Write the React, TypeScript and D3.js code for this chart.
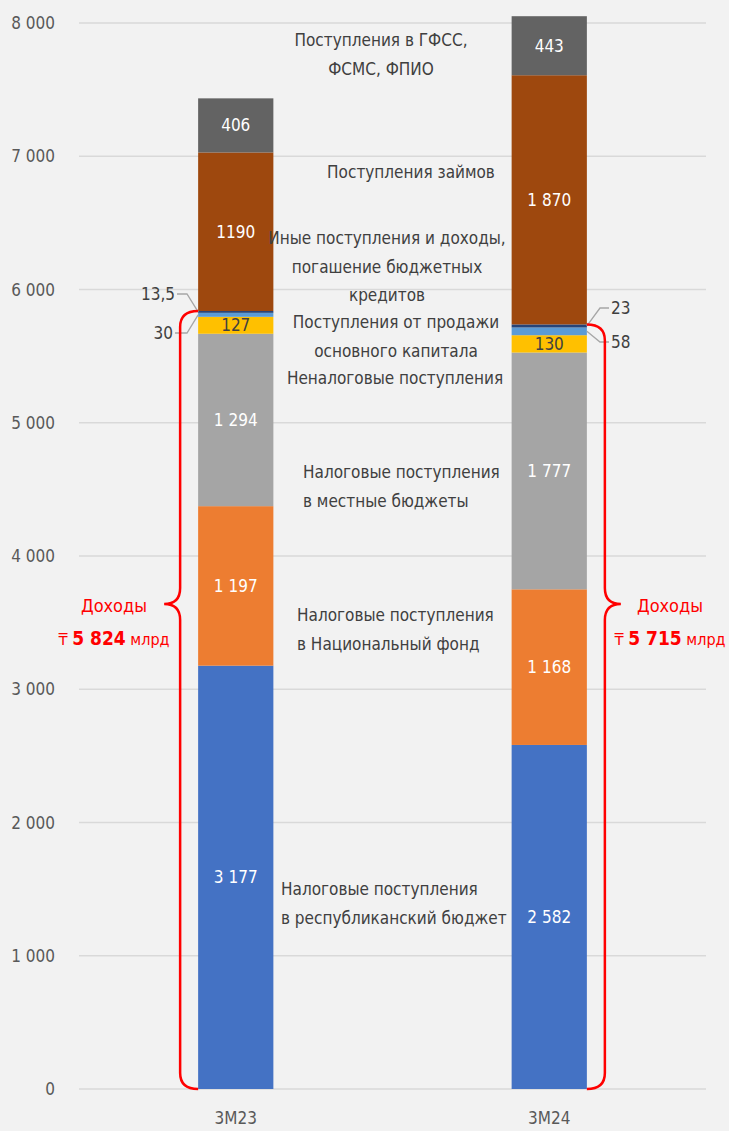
import React, { useEffect, useRef } from "react";
import * as d3 from "d3";

// data
const periods = ["3M23", "3M24"];
const seriesNames = [
  "Налоговые поступления в республиканский бюджет",
  "Налоговые поступления в Национальный фонд",
  "Налоговые поступления в местные бюджеты",
  "Неналоговые поступления",
  "Поступления от продажи основного капитала",
  "Иные поступления и доходы, погашение бюджетных кредитов",
  "Поступления займов",
  "Поступления в ГФСС, ФСМС, ФПИО",
];
const values3M23 = [3177, 1197, 1294, 127, 30, 13.5, 1190, 406];
const values3M24 = [2582, 1168, 1777, 130, 58, 23, 1870, 443];
const labels3M23 = ["3 177", "1 197", "1 294", "127", "30", "13,5", "1190", "406"];
const labels3M24 = ["2 582", "1 168", "1 777", "130", "58", "23", "1 870", "443"];
const incomeTotals = ["5 824", "5 715"];
const yTicks = [0, 1000, 2000, 3000, 4000, 5000, 6000, 7000, 8000];
const colors = ["#4472c4", "#ed7d31", "#a5a5a5", "#ffc000", "#5b9bd5", "#264478", "#9e480e", "#636363"];

// text blocks in the middle of the chart (lines, x, y of first line, anchor)
const legendBlocks = [
  { lines: ["Налоговые поступления", "в республиканский бюджет"], x: 281, y: 889, anchor: "start" },
  { lines: ["Налоговые поступления", "в Национальный фонд"], x: 297, y: 615, anchor: "start" },
  { lines: ["Налоговые поступления", "в местные бюджеты"], x: 303, y: 472, anchor: "start" },
  { lines: ["Неналоговые поступления"], x: 395, y: 378, anchor: "middle" },
  { lines: ["Поступления от продажи", "основного капитала"], x: 396, y: 322, anchor: "middle" },
  { lines: ["Иные поступления и доходы,", "погашение бюджетных", "кредитов"], x: 387, y: 238, anchor: "middle" },
  { lines: ["Поступления займов"], x: 411, y: 172, anchor: "middle" },
  { lines: ["Поступления в ГФСС,", "ФСМС, ФПИО"], x: 381, y: 40, anchor: "middle" },
];

const W = 729;
const H = 1131;
const FONT = "'Liberation Sans Narrow', 'DejaVu Sans Condensed', 'Roboto', sans-serif";

const App = () => {
  const svgRef = useRef<SVGSVGElement>(null);

  useEffect(() => {
    const svg = d3.select(svgRef.current);
    svg.selectAll("*").remove();

    const x = d3.scaleBand().domain(periods).range([79, 706]).paddingInner(0.76).paddingOuter(0.38);
    const y = d3.scaleLinear().domain([0, 8000]).range([1089, 23]);

    svg.append("rect").attr("width", W).attr("height", H).attr("fill", "#f2f2f2");

    // grid
    svg.append("g").selectAll("line").data(yTicks).join("line")
      .attr("x1", 79).attr("x2", 706)
      .attr("y1", d => y(d)).attr("y2", d => y(d))
      .attr("stroke", "#d9d9d9").attr("stroke-width", 1.5);

    svg.append("g").selectAll("text").data(yTicks).join("text")
      .attr("x", 55).attr("y", d => y(d) + 6)
      .attr("text-anchor", "end")
      .attr("font-size", 17).attr("fill", "#595959")
      .text(d => d3.format(",")(d).replace(/,/g, " "));

    svg.append("g").selectAll("text").data(periods).join("text")
      .attr("x", d => x(d)! + x.bandwidth() / 2).attr("y", 1124)
      .attr("text-anchor", "middle")
      .attr("font-size", 17).attr("fill", "#595959")
      .text(d => d);

    const rows = periods.map((p, i) => {
      const r: any = { period: p };
      const vals = i === 0 ? values3M23 : values3M24;
      seriesNames.forEach((s, j) => (r[s] = vals[j]));
      return r;
    });
    const layers = d3.stack<any>().keys(seriesNames)(rows);
    const allLabels = [labels3M23, labels3M24];

    layers.forEach((layer, j) => {
      const g = svg.append("g");
      g.selectAll("rect").data(layer).join("rect")
        .attr("x", d => x(d.data.period)!)
        .attr("width", x.bandwidth())
        .attr("y", d => y(d[1]))
        .attr("height", d => y(d[0]) - y(d[1]))
        .attr("fill", colors[j]);
      if (values3M23[j] > 100) {
        g.selectAll("text").data(layer).join("text")
          .attr("x", d => x(d.data.period)! + x.bandwidth() / 2)
          .attr("y", d => (y(d[0]) + y(d[1])) / 2 + 6)
          .attr("text-anchor", "middle")
          .attr("font-size", 17)
          .attr("fill", j === 3 ? "#404040" : "#ffffff")
          .text((d, i) => allLabels[i][j]);
      }
    });

    // leader lines for thin segments
    const leader = (px: number, py: number, ex: number, ey: number, tx: number, label: string, side: number) => {
      svg.append("path")
        .attr("d", `M${px},${py}L${ex},${ey}L${tx - side * 2},${ey}`)
        .attr("fill", "none").attr("stroke", "#a6a6a6").attr("stroke-width", 1.3);
      svg.append("text")
        .attr("x", tx).attr("y", ey + 6)
        .attr("text-anchor", side > 0 ? "start" : "end")
        .attr("font-size", 17).attr("fill", "#404040")
        .text(label);
    };
    const x23 = x("3M23")!;
    const x24 = x("3M24")! + x.bandwidth();
    const l23 = layers.map(l => l[0]);
    const l24 = layers.map(l => l[1]);
    leader(x23, y((l23[5][0] + l23[5][1]) / 2), 187, 294, 175, labels3M23[5], -1);
    leader(x23, y((l23[4][0] + l23[4][1]) / 2), 187, 333, 173, labels3M23[4], -1);
    leader(x24, y((l24[5][0] + l24[5][1]) / 2), 600, 308, 611, labels3M24[5], 1);
    leader(x24, y((l24[4][0] + l24[4][1]) / 2), 600, 342, 611, labels3M24[4], 1);

    // legend text in the middle
    legendBlocks.forEach(b => {
      const t = svg.append("text")
        .attr("font-size", 17).attr("fill", "#404040")
        .attr("text-anchor", b.anchor);
      b.lines.forEach((ln, i) => {
        t.append("tspan").attr("x", b.x).attr("y", b.y + 6 + i * 28.5).text(ln);
      });
    });

    // braces
    const tipY = 604;
    const braces = [
      { x0: x23, top: y(l23[5][1]), dir: -1, tx: 114, total: incomeTotals[0] },
      { x0: x24, top: y(l24[5][1]), dir: 1, tx: 670, total: incomeTotals[1] },
    ];
    braces.forEach(b => {
      const bot = y(0);
      const xv = b.x0 + b.dir * 18;
      const xt = b.x0 + b.dir * 34;
      const r = 16;
      const path = `M${b.x0},${b.top} Q${xv},${b.top} ${xv},${b.top + r}
        L${xv},${tipY - r} Q${xv},${tipY} ${xt},${tipY}
        Q${xv},${tipY} ${xv},${tipY + r}
        L${xv},${bot - r} Q${xv},${bot} ${b.x0},${bot}`;
      svg.append("path").attr("d", path)
        .attr("fill", "none").attr("stroke", "#ff0000").attr("stroke-width", 2.5);
      svg.append("text")
        .attr("x", b.tx).attr("y", 612)
        .attr("text-anchor", "middle").attr("font-size", 18).attr("fill", "#ff0000")
        .text("Доходы");
      const t = svg.append("text")
        .attr("x", b.tx).attr("y", 645)
        .attr("text-anchor", "middle").attr("font-size", 16).attr("fill", "#ff0000");
      t.append("tspan").text("₸ ");
      t.append("tspan").attr("font-weight", "bold").attr("font-size", 19).text(b.total);
      t.append("tspan").text(" млрд");
    });
  }, []);

  return (
    <svg
      ref={svgRef}
      width={W}
      height={H}
      style={{ position: "absolute", left: 0, top: 0, fontFamily: FONT }}
    />
  );
};

export default App;
